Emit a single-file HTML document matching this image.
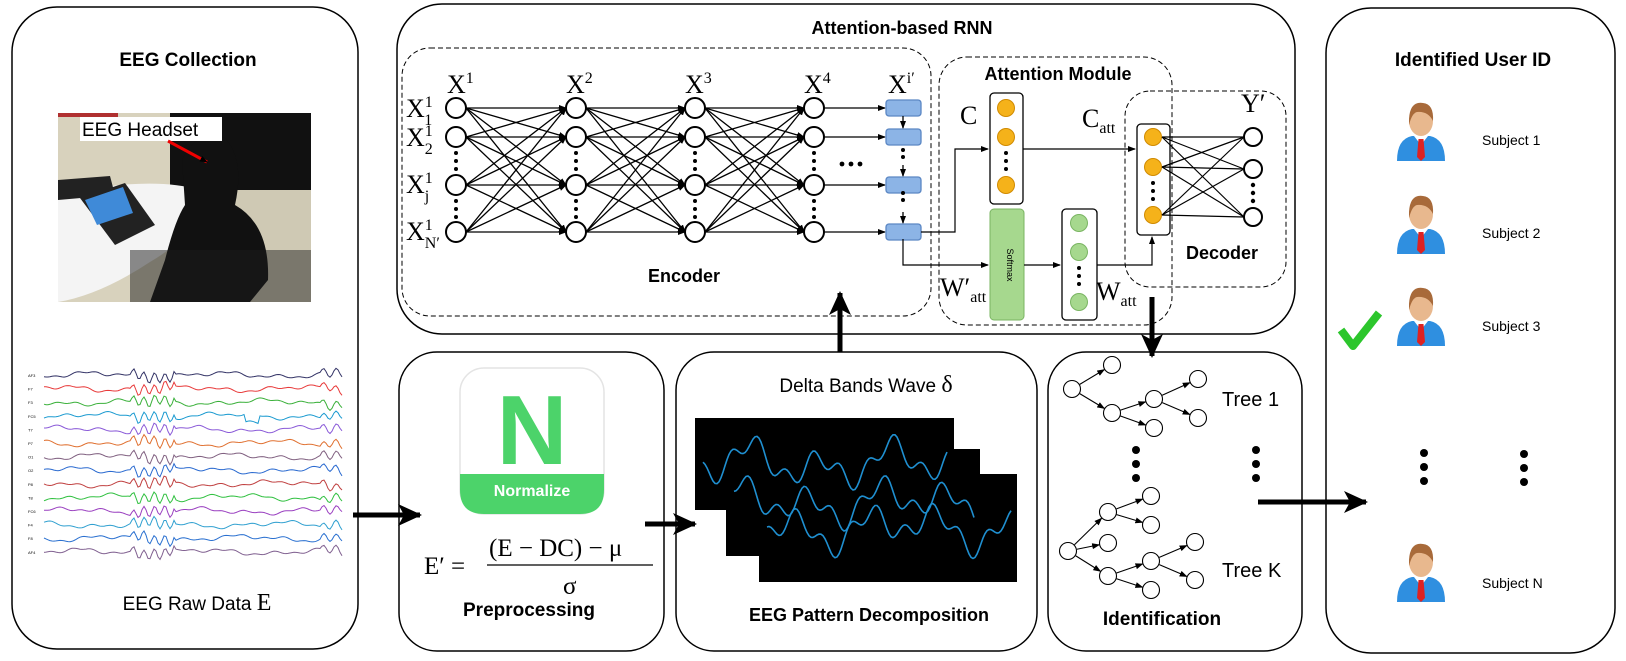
<!DOCTYPE html>
<html><head><meta charset="utf-8"><style>
html,body{margin:0;padding:0;background:#fff;}
svg{display:block;}
.b{font-family:"Liberation Sans",sans-serif;font-weight:bold;}
.s{font-family:"Liberation Sans",sans-serif;}
.m{font-family:"Liberation Serif",serif;}
</style></head><body>
<svg id="g" width="1626" height="661" viewBox="0 0 1626 661" xmlns="http://www.w3.org/2000/svg">
<defs>
<marker id="a" markerWidth="8" markerHeight="8" refX="7" refY="4" orient="auto" markerUnits="userSpaceOnUse"><path d="M0,1 L8,4 L0,7z" fill="#000"/></marker>
<marker id="A" markerWidth="26" markerHeight="26" refX="22" refY="13" orient="auto" markerUnits="userSpaceOnUse"><path d="M0,2 L24,13 L0,24 L6,13z" fill="#000"/></marker>
</defs>
<!-- panels -->
<rect x="12" y="7" width="346" height="642" rx="45" fill="none" stroke="#000" stroke-width="1.5"/>
<rect x="397" y="4" width="898" height="330" rx="45" fill="none" stroke="#000" stroke-width="1.5"/>
<rect x="399" y="352" width="265" height="299" rx="38" fill="none" stroke="#000" stroke-width="1.5"/>
<rect x="676" y="352" width="361" height="299" rx="38" fill="none" stroke="#000" stroke-width="1.5"/>
<rect x="1048" y="352" width="254" height="299" rx="38" fill="none" stroke="#000" stroke-width="1.5"/>
<rect x="1326" y="8" width="289" height="645" rx="45" fill="none" stroke="#000" stroke-width="1.5"/>
<rect x="402" y="48" width="529" height="268" rx="28" fill="none" stroke="#000" stroke-dasharray="5,3"/>
<rect x="939" y="57" width="233" height="268" rx="28" fill="none" stroke="#000" stroke-dasharray="5,3"/>
<rect x="1125" y="91" width="161" height="196" rx="25" fill="none" stroke="#000" stroke-dasharray="5,3"/>

<text x="188" y="66" class="b" font-size="19" text-anchor="middle">EEG Collection</text>
<text x="902" y="34" class="b" font-size="18" text-anchor="middle">Attention-based RNN</text>
<text x="1473" y="66" class="b" font-size="19" text-anchor="middle">Identified User ID</text>
<text x="1058" y="80" class="b" font-size="18" text-anchor="middle">Attention Module</text>

<!-- photo -->
<rect x="58" y="113" width="253" height="189" fill="#d8d2bd"/>
<rect x="170" y="113" width="141" height="80" fill="#111"/>
<rect x="170" y="190" width="141" height="60" fill="#cfc9b4"/>
<rect x="58" y="113" width="60" height="4" fill="#b03030"/>
<path d="M58,195 Q150,175 200,190 Q205,230 150,262 Q100,295 58,302z" fill="#f4f4f4"/>
<path d="M58,180 L110,176 L115,195 L58,200z" fill="#222"/>
<path d="M80,198 L125,183 L155,225 L115,245z" fill="#222"/>
<path d="M85,200 L123,187 L133,213 L97,225z" fill="#3f8ad8"/>
<path d="M182,160 Q195,130 225,138 Q245,160 235,205 Q270,225 268,280 L250,302 L150,302 L165,260 Q175,220 185,205z" fill="#111"/>
<rect x="130" y="250" width="181" height="52" fill="#1c1c1c" opacity="0.5"/>
<rect x="80" y="117" width="142" height="24" fill="#fff"/>
<text x="82" y="136" class="s" font-size="19" fill="#000">EEG Headset</text>
<line x1="168" y1="141" x2="207" y2="162" stroke="#e00" stroke-width="3" marker-end="url(#a)"/>

<g id="eeg"></g>
<text x="197" y="610" class="s" font-size="19" text-anchor="middle">EEG Raw Data <tspan class="m" font-size="24">E</tspan></text>

<!-- encoder -->
<g id="enc" stroke="#000" stroke-width="1.3" fill="none"></g>
<g class="m" font-size="26">
<text x="447" y="93">X<tspan font-size="16" dy="-10">1</tspan></text>
<text x="566" y="93">X<tspan font-size="16" dy="-10">2</tspan></text>
<text x="685" y="93">X<tspan font-size="16" dy="-10">3</tspan></text>
<text x="804" y="93">X<tspan font-size="16" dy="-10">4</tspan></text>
<text x="888" y="93">X<tspan font-size="16" dy="-10">i′</tspan></text>
<text x="406" y="117">X<tspan font-size="16" dy="-10">1</tspan><tspan font-size="16" dx="-8" dy="18">1</tspan></text>
<text x="406" y="146">X<tspan font-size="16" dy="-10">1</tspan><tspan font-size="16" dx="-8" dy="18">2</tspan></text>
<text x="406" y="193">X<tspan font-size="16" dy="-10">1</tspan><tspan font-size="16" dx="-8" dy="18">j</tspan></text>
<text x="406" y="240">X<tspan font-size="16" dy="-10">1</tspan><tspan font-size="16" dx="-8" dy="18">N′</tspan></text>
<text x="960" y="124">C</text>
<text x="1082" y="127">C<tspan font-size="16" dy="6">att</tspan></text>
<text x="1241" y="112">Y′</text>
<text x="940" y="296">W′<tspan font-size="16" dy="6">att</tspan></text>
<text x="1096" y="300">W<tspan font-size="16" dy="6">att</tspan></text>
</g>
<text x="684" y="282" class="b" font-size="18" text-anchor="middle">Encoder</text>
<text x="1222" y="259" class="b" font-size="18" text-anchor="middle">Decoder</text>

<!-- attention -->
<rect x="990" y="93" width="33" height="111" rx="4" fill="#fff" stroke="#000" stroke-width="1.3"/>
<g fill="#f5b21a" stroke="#d08a00"><circle cx="1006" cy="108" r="8.5"/><circle cx="1006" cy="137" r="8.5"/><circle cx="1006" cy="185" r="8.5"/></g>
<g fill="#000"><circle cx="1006" cy="153" r="2"/><circle cx="1006" cy="161" r="2"/><circle cx="1006" cy="169" r="2"/></g>
<rect x="990" y="209" width="34" height="111" rx="4" fill="#a6d88e" stroke="#7ab562"/>
<text x="1007" y="265" class="s" font-size="9" transform="rotate(90 1007 265)" text-anchor="middle">Softmax</text>
<rect x="1062" y="209" width="35" height="111" rx="4" fill="#fff" stroke="#000" stroke-width="1.3"/>
<g fill="#a6d88e" stroke="#7ab562"><circle cx="1079" cy="223" r="8.5"/><circle cx="1079" cy="252" r="8.5"/><circle cx="1079" cy="302" r="8.5"/></g>
<g fill="#000"><circle cx="1079" cy="268" r="2"/><circle cx="1079" cy="276" r="2"/><circle cx="1079" cy="284" r="2"/></g>
<rect x="1137" y="124" width="33" height="111" rx="4" fill="#fff" stroke="#000" stroke-width="1.3"/>
<g fill="#f5b21a" stroke="#d08a00"><circle cx="1153" cy="137" r="8.5"/><circle cx="1153" cy="167" r="8.5"/><circle cx="1153" cy="215" r="8.5"/></g>
<g fill="#000"><circle cx="1153" cy="183" r="2"/><circle cx="1153" cy="191" r="2"/><circle cx="1153" cy="199" r="2"/></g>
<g stroke="#000" stroke-width="1.2" fill="none">
<polyline points="921,232 955,232 955,149 988,149" marker-end="url(#a)"/>
<line x1="1023" y1="149" x2="1135" y2="149" marker-end="url(#a)"/>
<polyline points="903,239 903,265 988,265" marker-end="url(#a)"/>
<line x1="1024" y1="265" x2="1060" y2="265" marker-end="url(#a)"/>
<polyline points="1097,265 1152,265 1152,237" marker-end="url(#a)"/>
</g>
<g id="dec" stroke="#000" stroke-width="1.2"></g>
<g fill="#fff" stroke="#000" stroke-width="2"><circle cx="1253" cy="137" r="9"/><circle cx="1253" cy="169" r="9"/><circle cx="1253" cy="217" r="9"/></g>
<g fill="#000"><circle cx="1253" cy="185" r="2.2"/><circle cx="1253" cy="193" r="2.2"/><circle cx="1253" cy="201" r="2.2"/></g>

<!-- big arrows -->
<g stroke="#000" stroke-width="5" fill="none">
<line x1="353" y1="515" x2="420" y2="515" marker-end="url(#A)"/>
<line x1="645" y1="524" x2="695" y2="524" marker-end="url(#A)"/>
<line x1="840" y1="352" x2="840" y2="293" marker-end="url(#A)"/>
<line x1="1152" y1="297" x2="1152" y2="356" marker-end="url(#A)"/>
<line x1="1258" y1="502" x2="1366" y2="502" marker-end="url(#A)"/>
</g>

<!-- preprocessing -->
<rect x="460" y="368" width="144" height="146" rx="24" fill="#fff" stroke="#e4e4e4" stroke-width="1.5"/>
<path d="M460,474 H604 V490 Q604,514 580,514 H484 Q460,514 460,490z" fill="#4cd36a"/>
<text x="532" y="464" class="b" font-size="98" fill="#4cd36a" text-anchor="middle">N</text>
<text x="532" y="496" class="b" font-size="16" fill="#fff" text-anchor="middle">Normalize</text>
<g class="m" font-size="25">
<text x="424" y="574">E′ =</text>
<text x="489" y="556">(E − DC) − μ</text>
<line x1="487" y1="565" x2="653" y2="565" stroke="#000" stroke-width="1.3"/>
<text x="563" y="594">σ</text>
</g>
<text x="529" y="616" class="b" font-size="19" text-anchor="middle">Preprocessing</text>

<!-- decomposition -->
<text x="866" y="392" class="s" font-size="19" text-anchor="middle">Delta Bands Wave <tspan class="m" font-size="24">δ</tspan></text>
<rect x="695" y="418" width="259" height="92" fill="#000"/>
<rect x="726" y="449" width="254" height="107" fill="#000"/>
<rect x="759" y="474" width="258" height="108" fill="#000"/>
<g id="dw" fill="none" stroke="#1f8fd0" stroke-width="1.6"></g>
<text x="869" y="621" class="b" font-size="18" text-anchor="middle">EEG Pattern Decomposition</text>

<!-- identification -->
<g id="tr" stroke="#000" stroke-width="1.1"></g>
<text x="1222" y="406" class="s" font-size="20">Tree 1</text>
<text x="1222" y="577" class="s" font-size="20">Tree K</text>
<g fill="#000"><circle cx="1136" cy="450" r="4"/><circle cx="1136" cy="464" r="4"/><circle cx="1136" cy="478" r="4"/>
<circle cx="1256" cy="450" r="4"/><circle cx="1256" cy="464" r="4"/><circle cx="1256" cy="478" r="4"/>
<circle cx="1424" cy="453" r="4"/><circle cx="1424" cy="467" r="4"/><circle cx="1424" cy="481" r="4"/>
<circle cx="1524" cy="454" r="4"/><circle cx="1524" cy="468" r="4"/><circle cx="1524" cy="482" r="4"/></g>
<text x="1162" y="625" class="b" font-size="19" text-anchor="middle">Identification</text>

<!-- users -->
<g id="us"></g>
<g class="s" font-size="14"><text x="1482" y="145">Subject 1</text><text x="1482" y="238">Subject 2</text><text x="1482" y="331">Subject 3</text><text x="1482" y="588">Subject N</text></g>
<path d="M1341,330 L1353,346 L1379,313" fill="none" stroke="#2cc62c" stroke-width="8" stroke-linejoin="round"/>
</svg>
<script>
var NS="http://www.w3.org/2000/svg";
function el(p,t,a){var e=document.createElementNS(NS,t);for(var k in a)e.setAttribute(k,a[k]);document.getElementById(p).appendChild(e);return e;}
var cx=[456,576,695,814],ry=[108,137,185,232];
for(var c=0;c<3;c++)for(var i=0;i<4;i++)for(var j=0;j<4;j++)el("enc","line",{x1:cx[c]+10,y1:ry[i],x2:cx[c+1]-10,y2:ry[j],"marker-end":"url(#a)"});
var by=[108,137,185,232];
for(var i=0;i<4;i++){el("enc","line",{x1:824,y1:ry[i],x2:885,y2:by[i],"marker-end":"url(#a)"});}
for(var c=0;c<4;c++){for(var i=0;i<4;i++)el("enc","circle",{cx:cx[c],cy:ry[i],r:10,fill:"#fff","stroke-width":2});
[153,161,169,201,209,217].forEach(function(y){el("enc","circle",{cx:cx[c],cy:y,r:2,fill:"#000",stroke:"none"});});}
for(var i=0;i<4;i++)el("enc","rect",{x:886,y:by[i]-8,width:35,height:16,rx:3,fill:"#8cb4e6",stroke:"#5b87c4"});
[[116,128],[145,153],[193,176]].forEach(function(s){});
el("enc","line",{x1:903,y1:116,x2:903,y2:128,"marker-end":"url(#a)"});
el("enc","line",{x1:903,y1:165,x2:903,y2:176,"marker-end":"url(#a)"});
el("enc","line",{x1:903,y1:212,x2:903,y2:223,"marker-end":"url(#a)"});
[150,157,193,200].forEach(function(y){el("enc","circle",{cx:903,cy:y,r:2,fill:"#000",stroke:"none"});});
[842,851,860].forEach(function(x){el("enc","circle",{cx:x,cy:164,r:2.4,fill:"#000",stroke:"none"});});
[137,167,215].forEach(function(a){[137,169,217].forEach(function(b){el("dec","line",{x1:1162,y1:a,x2:1244,y2:b});});});
var cols=["#333366","#e83a3a","#3ab03a","#1a9ad0","#8a5ad8","#e07030","#806080","#2a6ad0","#c04040","#30c040","#9a40c0","#30a0d0","#2a70d0","#806090"];
var lbl=["AF3","F7","F3","FC5","T7","P7","O1","O2","P8","T8","FC6","F4","F8","AF4"];
for(var k=0;k<14;k++){var y0=375+k*13.6,d="";for(var x=44;x<=342;x+=2){var v=Math.sin(x*0.13+k)*1.5+Math.sin(x*0.05+k*2)*2+Math.sin(x*0.31+k*3)*1;if(x>130&&x<175)v+=Math.sin(x*0.6)*5;if(x>245&&x<260&&k==3)v+=8;if(x>320)v+=Math.sin(x*0.5)*4;d+=(x==44?"M":"L")+x+","+(y0+v).toFixed(1);}
el("eeg","path",{d:d,stroke:cols[k],fill:"none","stroke-width":1});
var t=el("eeg","text",{x:28,y:y0+2,"font-size":4,"font-family":"Liberation Sans"});t.textContent=lbl[k];}
[[695,418,259,92],[726,449,254,107],[759,474,258,108]].forEach(function(r,n){var d="";for(var x=r[0]+8;x<r[0]+r[2]-5;x+=2){var v=Math.sin(x*0.09+n)*14+Math.sin(x*0.23+n*2)*9+Math.sin(x*0.04)*8;d+=(d?"L":"M")+x+","+(r[1]+r[3]*0.5+v).toFixed(1);}el("dw","path",{d:d});});
function tree(nodes,edges){edges.forEach(function(e){var a=nodes[e[0]],b=nodes[e[1]],dx=b[0]-a[0],dy=b[1]-a[1],L=Math.hypot(dx,dy);el("tr","line",{x1:a[0]+dx/L*9,y1:a[1]+dy/L*9,x2:b[0]-dx/L*9,y2:b[1]-dy/L*9,"marker-end":"url(#a)"});});nodes.forEach(function(p){el("tr","circle",{cx:p[0],cy:p[1],r:8.5,fill:"#fff"});});}
tree([[1072,389],[1112,365],[1112,413],[1154,399],[1154,428],[1198,379],[1198,418]],[[0,1],[0,2],[2,3],[2,4],[3,5],[3,6]]);
tree([[1068,551],[1108,512],[1108,543],[1108,576],[1151,496],[1151,525],[1151,561],[1151,590],[1195,542],[1195,580]],[[0,1],[0,2],[0,3],[1,4],[1,5],[3,6],[3,7],[6,8],[6,9]]);
[133,226,318,574].forEach(function(y){var g=document.createElementNS(NS,"g");g.setAttribute("transform","translate(1421,"+y+")");g.innerHTML='<path d="M-24,28 Q-24,6 -9,3 L9,3 Q24,6 24,28z" fill="#2f8fe0"/><path d="M-7,3 L0,12 L7,3z" fill="#fff"/><path d="M-2.5,6 L2.5,6 L4,24 L0,28 L-4,24z" fill="#d22"/><ellipse cx="0" cy="-12" rx="12" ry="15" fill="#e8b88e"/><path d="M-12,-14 Q-11,-32 2,-30 Q13,-29 12,-12 Q7,-22 -4,-21 Q-9,-20 -12,-8z" fill="#a86a3a"/>';document.getElementById("us").appendChild(g);});
</script>
</body></html>
